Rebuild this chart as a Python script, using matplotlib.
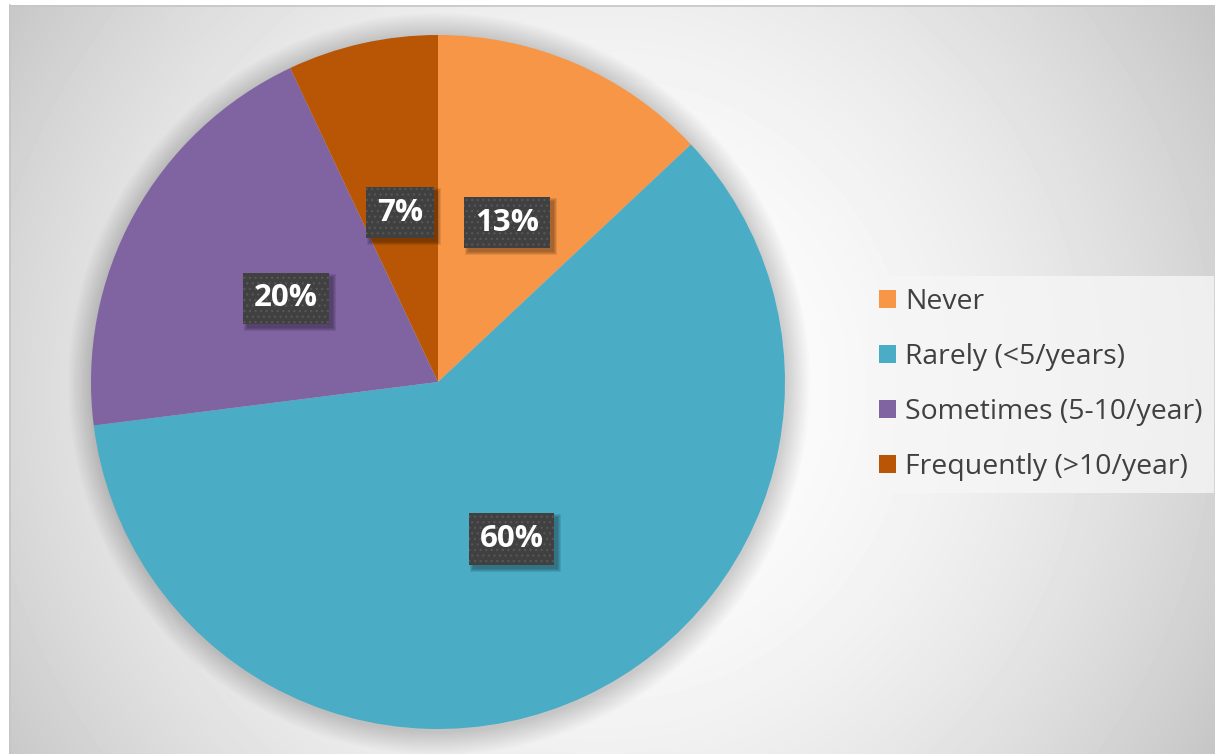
import numpy as np
import matplotlib.pyplot as plt
from matplotlib.patches import Circle, Rectangle

categories = ['Never', 'Rarely (<5/years)', 'Sometimes (5-10/year)', 'Frequently (>10/year)']
shares = [13, 60, 20, 7]
colors = ['#F79646', '#4BACC6', '#8064A2', '#B85606']

W, H = 1215, 754
cx, cy, R = 438, H - 382, 347

plt.rcParams['hatch.linewidth'] = 0.9
fig = plt.figure(figsize=(W / 100, H / 100), dpi=100)
ax = fig.add_axes([0, 0, 1, 1])

# radial grey background, white in the middle of the chart area
xs = np.arange(9, W) + 0.5
ys = np.arange(5, H) + 0.5
xx, yy = np.meshgrid(xs, ys)
d = np.hypot(xx - 600, yy - 390) / 720
bg = 1 - 0.23 * np.clip(d, 0, 1) ** 2
ax.imshow(bg, cmap='gray', vmin=0, vmax=1, extent=(9, W, 0, H - 5),
          origin='upper', interpolation='bilinear')
ax.plot([9.5, 9.5], [0, H - 5], color='#c6c6c6', lw=1.2)
ax.plot([9.5, W], [H - 5.5, H - 5.5], color='#c6c6c6', lw=1.2)

# soft shadow round the pie
for k in range(1, 16):
    ax.add_patch(Circle((cx + 1, cy - 2), R + k * 1.6, color='black', alpha=0.01, lw=0))

wedges, texts, autotexts = ax.pie(
    shares, colors=colors, startangle=90, counterclock=False,
    center=(cx, cy), radius=R, pctdistance=0.5,
    autopct=lambda p: f'{p:.0f}%',
    wedgeprops=dict(linewidth=0),
    textprops=dict(color='white', fontsize=22.5, fontweight='bold', family='Open Sans'))

for t in autotexts:
    t.set_bbox(dict(boxstyle='square,pad=0.34', fc='#404040', ec='#565656', lw=0, hatch='...'))
    t.set_zorder(4)

leg = ax.legend(wedges, categories, loc='upper left', bbox_to_anchor=(867 / W, 1 - 276 / H),
                prop=dict(family='Open Sans', size=20.4), labelcolor='#404040',
                frameon=True, fancybox=False, facecolor='#f6f6f6', edgecolor='none', framealpha=0.8,
                handlelength=0.6, handleheight=0.6, handletextpad=0.32,
                labelspacing=0.95, borderpad=0.42, borderaxespad=0)

ax.set_xlim(0, W)
ax.set_ylim(0, H)
ax.set_aspect('auto')
ax.axis('off')

# blurred drop shadow under each label box
fig.canvas.draw()
for t in autotexts:
    bb = t.get_bbox_patch().get_window_extent()
    for s in range(4):
        ax.add_patch(Rectangle((bb.x0 + 4 - s, bb.y0 - 4 - s), bb.width + 2 * s, bb.height + 2 * s,
                               color='black', alpha=0.09, lw=0, zorder=3))

fig.savefig('out.png', dpi=100, facecolor='white')
